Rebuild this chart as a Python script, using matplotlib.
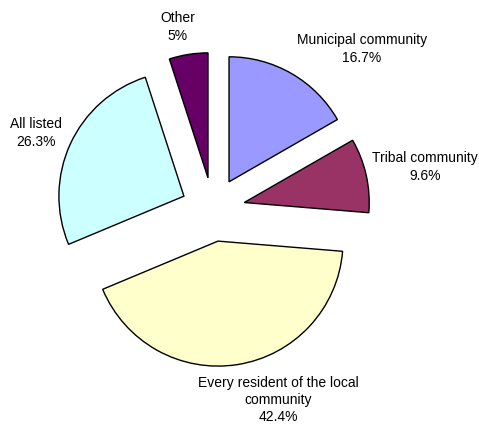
import matplotlib
matplotlib.use("Agg")
import matplotlib.pyplot as plt

categories = ["Municipal community", "Tribal community", "Every resident of the local\ncommunity", "All listed", "Other"]
values = [16.7, 9.6, 42.4, 26.3, 5]
value_labels = ["16.7%", "9.6%", "42.4%", "26.3%", "5%"]
colors = ["#9999FF", "#993366", "#FFFFCC", "#CCFFFF", "#660066"]

W, H = 479, 424
fig = plt.figure(figsize=(W / 100, H / 100), dpi=100)
ax = fig.add_axes([0, 0, 1, 1])

cx, cy = 213, H - 209.5
radius = 125
expl = 32

ax.pie(values, colors=colors, startangle=90, counterclock=False,
       center=(cx, cy), radius=radius, explode=[expl] * len(values),
       wedgeprops=dict(edgecolor="black", linewidth=1.0), frame=False)

ax.set_xlim(0, W)
ax.set_ylim(0, H)
ax.set_aspect("equal")
ax.axis("off")

label_pos = [(362, 49), (425, 167), (278, 400), (36, 133), (178, 27)]
for cat, vl, (x, y) in zip(categories, value_labels, label_pos):
    ax.text(x, H - y, f"{cat}\n{vl}", ha="center", va="center",
            fontsize=10, family="Liberation Sans", linespacing=1.3, color="black")

fig.savefig("out.png", dpi=100)
